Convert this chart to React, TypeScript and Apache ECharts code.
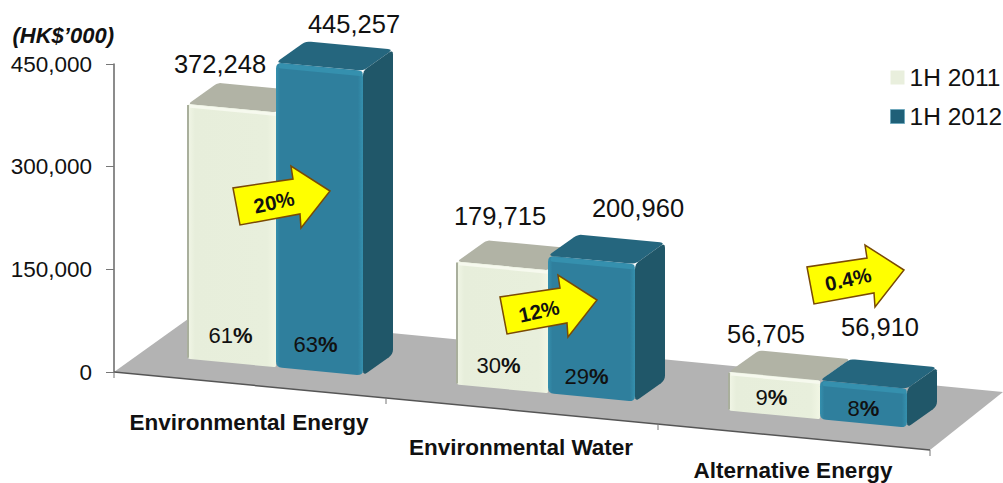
import React, { useEffect, useRef } from "react";
import * as echarts from "echarts";

const categories = ["Environmental Energy", "Environmental Water", "Alternative Energy"];
const values2011 = [372248, 179715, 56705];
const values2012 = [445257, 200960, 56910];
const shares2011 = [61, 30, 9];
const shares2012 = [63, 29, 8];
const growthLabels = ["20%", "12%", "0.4%"];
const yTicks = { min: 0, max: 450000, interval: 150000 };

// layout only
const FONT = '"Liberation Sans", Arial, sans-serif';
const SLOPE = 0.0956;
const DX = 1;
const DY = -0.71;
const BAR_W = 87;
const BAR_D0 = 25;
const BAR_DEPTH = 30;
const BAR_SHIFT = 1;
const leftBarWidths = [88, 91, 91];
const floorBackLeft = [81, -58];
const floorBackRight = [73, -58];
const labelOff2011 = [[-11.5, -44], [-3.5, -50], [-9.5, -42]];
const labelOff2012 = [[35.5, -42.5], [47.5, -52], [17.5, -57]];
const shareOff2011 = [[-1, -28], [-5, -24], [-4, -18]];
const shareOff2012 = [[-3, -27], [-4, -21], [1, -15]];
const catLabelDy = [37.5, 36.5, 33.5];
const arrowAnchor = [[-17, 188], [-22, 297], [13, 267]];
const arrowText = [[41, 202], [39, 311], [41, 279]];
const arrowShape = [[0, 0], [7, 37], [67, 26], [68, 40], [97, 3], [58, -22], [60, -9]];

const fmt = (v: number) => v.toLocaleString("en-US");

function rounded(pts: number[][], r: number) {
  const out: number[][] = [];
  const n = pts.length;
  for (let i = 0; i < n; i++) {
    const p = pts[i], a = pts[(i + n - 1) % n], b = pts[(i + 1) % n];
    const la = Math.hypot(a[0] - p[0], a[1] - p[1]);
    const lb = Math.hypot(b[0] - p[0], b[1] - p[1]);
    const ra = Math.min(r, la / 2), rb = Math.min(r, lb / 2);
    const s = [p[0] + ((a[0] - p[0]) / la) * ra, p[1] + ((a[1] - p[1]) / la) * ra];
    const e = [p[0] + ((b[0] - p[0]) / lb) * rb, p[1] + ((b[1] - p[1]) / lb) * rb];
    for (let k = 0; k <= 4; k++) {
      const t = k / 4;
      const u = 1 - t;
      out.push([u * u * s[0] + 2 * u * t * p[0] + t * t * e[0], u * u * s[1] + 2 * u * t * p[1] + t * t * e[1]]);
    }
  }
  return out;
}

function hGrad(stops: [number, string][]) {
  return {
    type: "linear", x: 0, y: 0, x2: 1, y2: 0,
    colorStops: stops.map(([offset, color]) => ({ offset, color })),
  };
}

function makeBarRender(isNew: boolean) {
  const labelOff = isNew ? labelOff2012 : labelOff2011;
  const shareOff = isNew ? shareOff2012 : shareOff2011;
  return (params: any, api: any) => {
    const cat = api.value(0);
    const val = api.value(1);
    const share = api.value(2);
    const L = params.coordSys.x;
    const [x0, y0] = api.coord([cat, 0]);
    const h = y0 - api.coord([cat, val])[1];
    const u0 = isNew ? 0 : -leftBarWidths[cat];
    const u1 = isNew ? BAR_W : 0;
    const mid = isNew ? BAR_W / 2 : -BAR_W / 2;
    const P = (du: number, d: number, z: number) => [
      x0 + BAR_SHIFT + du + d * DX,
      y0 + (x0 + du - L) * SLOPE + d * DY - z,
    ];
    const D0 = BAR_D0, D1 = BAR_D0 + BAR_DEPTH;
    const front = [P(u0, D0, h), P(u1, D0, h), P(u1, D0, 0), P(u0, D0, 0)];
    const top = [P(u0, D0, h), P(u1, D0, h), P(u1, D1, h), P(u0, D1, h)];
    const side = [P(u1, D0, h), P(u1, D1, h), P(u1, D1, 0), P(u1, D0, 0)];
    const children: any[] = [];
    if (isNew) {
      children.push({ type: "polygon", shape: { points: rounded(top, 5) }, style: { fill: "#25667E" } });
      children.push({ type: "polygon", shape: { points: rounded(side, 5) }, style: { fill: "#205769" } });
      children.push({
        type: "polygon",
        shape: { points: rounded(front, 6) },
        style: { fill: hGrad([[0, "#3590AE"], [0.05, "#2F7F9D"], [0.94, "#2F7F9D"], [1, "#3590AE"]]) },
      });
      children.push({
        type: "polyline",
        shape: { points: [P(u0 + 5, D0, h - 3), P(u1 - 3, D0, h - 3)] },
        style: { stroke: "#3590AE", lineWidth: 5, fill: "none", lineCap: "round" },
      });
    } else {
      children.push({ type: "polygon", shape: { points: rounded(top, 4) }, style: { fill: "#B1B3A5" } });
      children.push({
        type: "polygon",
        shape: { points: rounded(front, 2) },
        style: { fill: hGrad([[0, "#F1F6E6"], [0.08, "#E7EEDB"], [0.9, "#E8EFDC"], [1, "#F1F6E4"]]) },
      });
      children.push({
        type: "polyline",
        shape: { points: [P(u0, D0, h - 1), P(u0, D0, 1)] },
        style: { stroke: "#A9AF9C", lineWidth: 2, fill: "none" },
      });
      children.push({
        type: "polyline",
        shape: { points: [P(u0 + 2, D0, h - 2), P(u1, D0, h - 2)] },
        style: { stroke: "#F6F9EE", lineWidth: 3, fill: "none" },
      });
    }
    const cx = P(mid, D0, 0)[0] - BAR_SHIFT;
    const baseY = P(mid, D0, 0)[1];
    const topY = baseY - h;
    children.push({
      type: "text",
      style: {
        text: fmt(val), x: cx + labelOff[cat][0], y: topY + labelOff[cat][1],
        fill: "#111", fontFamily: FONT, fontSize: 25.5, align: "center", verticalAlign: "middle",
      },
    });
    children.push({
      type: "text",
      style: {
        text: `{n|${share}}{p|%}`, x: cx + shareOff[cat][0], y: baseY + shareOff[cat][1],
        fill: "#111", align: "center", verticalAlign: "middle",
        rich: {
          n: { fontFamily: FONT, fontSize: 22, fill: "#111" },
          p: { fontFamily: FONT, fontSize: 22, fontWeight: "bold", fill: "#111" },
        },
      },
    });
    return { type: "group", children };
  };
}

const renderFloor = (params: any, api: any) => {
  const { x: L, y: T, width: W, height: H } = params.coordSys;
  const y0 = T + H;
  const yR = y0 + W * SLOPE;
  const pts = [
    [L, y0],
    [L + W, yR],
    [L + W + floorBackRight[0], yR + floorBackRight[1]],
    [L + floorBackLeft[0], y0 + floorBackLeft[1]],
  ];
  const children: any[] = [
    { type: "polygon", shape: { points: pts }, style: { fill: "#B3B3B3" } },
    { type: "line", shape: { x1: L, y1: y0, x2: L + W, y2: yR }, style: { stroke: "#555", lineWidth: 1.5 } },
  ];
  for (let i = 0; i <= categories.length; i++) {
    const x = L + (W * i) / categories.length;
    const y = y0 + (x - L) * SLOPE;
    children.push({ type: "line", shape: { x1: x, y1: y, x2: x, y2: y + 6 }, style: { stroke: "#777", lineWidth: 1 } });
  }
  return { type: "group", children };
};

const renderCatLabel = (params: any, api: any) => {
  const cat = api.value(0);
  const L = params.coordSys.x;
  const [x0, y0] = api.coord([cat, 0]);
  return {
    type: "text",
    style: {
      text: categories[cat], x: x0 - 1, y: y0 + (x0 - L) * SLOPE + catLabelDy[cat],
      fill: "#111", fontFamily: FONT, fontSize: 22.5, fontWeight: "bold", align: "center", verticalAlign: "middle",
    },
  };
};

const renderArrow = (params: any, api: any) => {
  const cat = api.value(0);
  const [x0] = api.coord([cat, 0]);
  const ax = x0 + arrowAnchor[cat][0];
  const ay = arrowAnchor[cat][1];
  return {
    type: "group",
    children: [
      {
        type: "polygon",
        shape: { points: arrowShape.map(([x, y]) => [ax + x, ay + y]) },
        style: { fill: "#FFFF00", stroke: "#7A4A05", lineWidth: 1.5 },
      },
      {
        type: "text",
        x: ax + arrowText[cat][0],
        y: arrowText[cat][1],
        rotation: 0.22,
        style: {
          text: growthLabels[cat], x: 0, y: 0,
          fill: "#111", fontFamily: FONT, fontSize: 20.5, fontWeight: "bold", align: "center", verticalAlign: "middle",
        },
      },
    ],
  };
};

export default function App() {
  const ref = useRef<HTMLDivElement>(null);
  useEffect(() => {
    document.body.style.margin = "0";
    const chart = echarts.init(ref.current!, undefined, { renderer: "svg" });
    const idx = categories.map((_, i) => i);
    chart.setOption({
      animation: false,
      backgroundColor: "#fff",
      grid: { left: 114, top: 64, width: 816, height: 308, containLabel: false },
      legend: {
        orient: "vertical",
        left: 890,
        top: 65,
        itemWidth: 14,
        itemHeight: 14,
        itemGap: 14,
        padding: 0,
        textStyle: { fontFamily: FONT, fontSize: 24.5, color: "#111" },
        data: [
          { name: "1H 2011", icon: "rect", itemStyle: { color: "#E9EFDD" } },
          { name: "1H 2012", icon: "rect", itemStyle: { color: "#1F6078", borderColor: "#6FA8BC", borderWidth: 1 } },
        ],
      },
      xAxis: {
        type: "category",
        data: categories,
        axisLine: { show: false },
        axisTick: { show: false },
        axisLabel: { show: false },
      },
      yAxis: {
        type: "value",
        min: yTicks.min,
        max: yTicks.max,
        interval: yTicks.interval,
        name: "(HK$\u2019000)",
        nameLocation: "end",
        nameGap: 29,
        nameTextStyle: {
          fontFamily: FONT, fontSize: 22, fontWeight: "bold", fontStyle: "italic",
          color: "#111", align: "right", verticalAlign: "middle",
        },
        splitLine: { show: false },
        axisLine: { show: true, lineStyle: { color: "#666", width: 1.5 } },
        axisTick: { show: true, length: 8, lineStyle: { color: "#777" } },
        axisLabel: {
          margin: 22, fontFamily: FONT, fontSize: 22.5, color: "#111",
          formatter: (v: number) => fmt(v),
        },
      },
      series: [
        { type: "custom", name: "floor", silent: true, z: 1, renderItem: renderFloor, data: [[0]], encode: { x: 0 } },
        { type: "custom", name: "labels", silent: true, z: 1, renderItem: renderCatLabel, data: idx.map((i) => [i]), encode: { x: 0 } },
        {
          type: "custom", name: "1H 2011", z: 2, itemStyle: { color: "#E9EFDD" },
          renderItem: makeBarRender(false),
          data: idx.map((i) => [i, values2011[i], shares2011[i]]),
          encode: { x: 0, y: 1 },
        },
        {
          type: "custom", name: "1H 2012", z: 3, itemStyle: { color: "#2F7F9D" },
          renderItem: makeBarRender(true),
          data: idx.map((i) => [i, values2012[i], shares2012[i]]),
          encode: { x: 0, y: 1 },
        },
        { type: "custom", name: "growth", silent: true, z: 4, renderItem: renderArrow, data: idx.map((i) => [i]), encode: { x: 0 } },
      ],
    });
    return () => chart.dispose();
  }, []);
  return <div ref={ref} style={{ position: "fixed", left: 0, top: 0, width: 1003, height: 483 }} />;
}
